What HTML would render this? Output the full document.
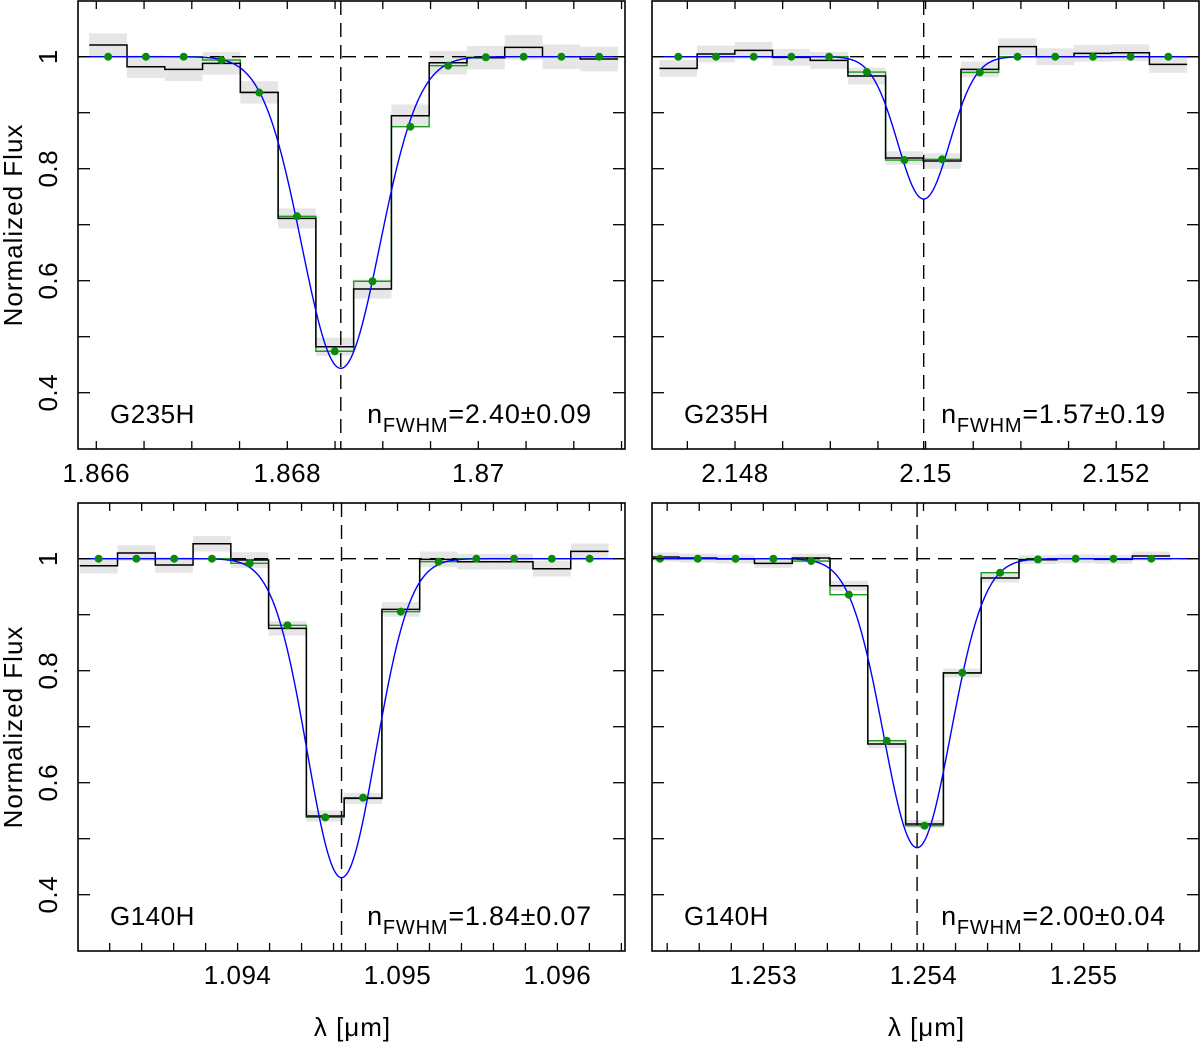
<!DOCTYPE html>
<html><head><meta charset="utf-8"><style>
html,body{margin:0;padding:0;background:#fff}
svg{display:block}
text{font-family:"Liberation Sans",sans-serif;fill:#000}
</style></head><body>
<svg id="chart" width="1200" height="1043" viewBox="0 0 1200 1043" xmlns="http://www.w3.org/2000/svg"></svg>
<script>
// ---- Panel A (top-left) G235H ----
const lamA0 = 1.866124, dlamA = 0.0003955;
const obsA = [1.0208,0.9821,0.9774,0.9881,0.9363,0.7113,0.4821,0.5851,0.8946,0.9893,0.9982,1.0167,1.0,0.9958];
const errA = [0.021,0.020,0.021,0.020,0.020,0.018,0.016,0.017,0.020,0.021,0.021,0.022,0.022,0.022];
const modA = [1,1,1,0.994,0.936,0.715,0.474,0.599,0.875,0.984,0.999,1,1,1];
const fitA = {center:1.86856, depth:0.5565, sigma:0.000408};
const ticksA = ["1.866","1.868","1.87"];
// ---- Panel B (top-right) G235H ----
const lamB0 = 2.147405, dlamB = 0.0003955;
const obsB = [0.9792,1.0048,1.0113,0.9988,0.9935,0.9655,0.819,0.8137,0.9774,1.0179,1.0,1.006,1.0071,0.9863];
const errB = [0.015,0.015,0.015,0.015,0.015,0.015,0.012,0.014,0.014,0.015,0.015,0.015,0.015,0.015];
const modB = [1,1,1,1,1,0.9726,0.8155,0.8167,0.972,1,1,1,1,1];
const fitB = {center:2.14998, depth:0.2542, sigma:0.000272};
const ticksB = ["2.148","2.15","2.152"];
// ---- Panel C (bottom-left) G140H ----
const lamC0 = 1.093131, dlamC = 0.0002362;
const obsC = [0.9875,1.0101,0.9887,1.0268,0.9976,0.8756,0.5405,0.572,0.9095,0.9988,0.9946,0.9946,0.9821,1.0131];
const errC = [0.014,0.014,0.014,0.014,0.014,0.013,0.010,0.010,0.013,0.014,0.014,0.014,0.014,0.014];
const modC = [1,1,1,1,0.9917,0.881,0.5381,0.5732,0.9054,0.9946,1,1,1,1];
const fitC = {center:1.09465, depth:0.5696, sigma:0.000214};
const ticksC = ["1.094","1.095","1.096"];
// ---- Panel D (bottom-right) G140H ----
const lamD0 = 1.252355, dlamD = 0.0002359;
const obsD = [1.003,1.0012,0.9994,0.9917,1.0012,0.9518,0.669,0.5262,0.7958,0.9655,0.9982,1.0,0.9988,1.0048];
const errD = [0.008,0.008,0.008,0.008,0.008,0.009,0.007,0.007,0.008,0.008,0.008,0.008,0.008,0.008];
const modD = [1,1,1,1,0.9958,0.9357,0.675,0.5232,0.7964,0.975,0.9988,1,1,1];
const fitD = {center:1.25396, depth:0.5161, sigma:0.00021};
const ticksD = ["1.253","1.254","1.255"];

const NS = "http://www.w3.org/2000/svg";
const svg = document.getElementById('chart');
function mk(tag, attrs, parent){const e=document.createElementNS(NS,tag);for(const k in attrs)e.setAttribute(k,attrs[k]);(parent||svg).appendChild(e);return e;}

const panels = [
 {id:'top-left', x0:78, x1:625, y0:1, y1:449, lamRef:1.866, pxRef:96.3, pxPer:95500, major:0.002, minor:0.0005, tickVals:[1.866,1.868,1.870], ticks:ticksA, yOne:56.7,
  lam0:lamA0, dlam:dlamA, obs:obsA, err:errA, mod:modA, fit:fitA, grating:'G235H', nf:'=2.40±0.09', ylabel:true, xlabel:false},
 {id:'top-right', x0:652, x1:1199, y0:1, y1:449, lamRef:2.148, pxRef:735, pxPer:95300, major:0.002, minor:0.0005, tickVals:[2.148,2.150,2.152], ticks:ticksB, yOne:56.7,
  lam0:lamB0, dlam:dlamB, obs:obsB, err:errB, mod:modB, fit:fitB, grating:'G235H', nf:'=1.57±0.19', ylabel:false, xlabel:false},
 {id:'bottom-left', x0:78, x1:625, y0:503, y1:951, lamRef:1.094, pxRef:237.6, pxPer:159900, major:0.001, minor:0.0002, tickVals:[1.094,1.095,1.096], ticks:ticksC, yOne:558.7,
  lam0:lamC0, dlam:dlamC, obs:obsC, err:errC, mod:modC, fit:fitC, grating:'G140H', nf:'=1.84±0.07', ylabel:true, xlabel:true},
 {id:'bottom-right', x0:652, x1:1199, y0:503, y1:951, lamRef:1.253, pxRef:763.3, pxPer:160200, major:0.001, minor:0.0002, tickVals:[1.253,1.254,1.255], ticks:ticksD, yOne:558.7,
  lam0:lamD0, dlam:dlamD, obs:obsD, err:errD, mod:modD, fit:fitD, grating:'G140H', nf:'=2.00±0.04', ylabel:false, xlabel:true}
];

panels.forEach(p=>{
  const X = l => p.pxRef + (l - p.lamRef)*p.pxPer;
  const Y = v => p.yOne + (1 - v)*560;
  const g = mk('g',{});
  
  
  const clipId = 'clip-'+p.id;
  const cp = mk('clipPath',{id:clipId}, g);
  mk('rect',{x:p.x0,y:p.y0,width:p.x1-p.x0,height:p.y1-p.y0},cp);
  const plot = mk('g',{'clip-path':'url(#'+clipId+')'}, g);
  
  
  const n = p.obs.length;
  for(let i=0;i<n;i++){
    const c = p.lam0 + i*p.dlam, a = X(c - p.dlam/2), b = X(c + p.dlam/2);
    const r = mk('rect',{x:a,y:Y(p.obs[i]+p.err[i]),width:b-a,height:Y(p.obs[i]-p.err[i])-Y(p.obs[i]+p.err[i]),fill:'#e6e6e6'},plot);
    
    
  }
  const hl = mk('line',{x1:p.x0,x2:p.x1,y1:Y(1),y2:Y(1),stroke:'#000','stroke-width':1.4,'stroke-dasharray':'14,8'},plot);
  
  
  const vl = mk('line',{x1:X(p.fit.center),x2:X(p.fit.center),y1:p.y0,y2:p.y1,stroke:'#000','stroke-width':1.4,'stroke-dasharray':'14,8'},plot);
  
  
  function steps(arr){
    let d='';
    for(let i=0;i<n;i++){
      const c=p.lam0+i*p.dlam, a=X(c-p.dlam/2), b=X(c+p.dlam/2), y=Y(arr[i]);
      d += (i===0?'M':'L')+a.toFixed(2)+','+y.toFixed(2)+'L'+b.toFixed(2)+','+y.toFixed(2);
    }
    return d;
  }
  const gm = mk('path',{d:steps(p.mod),fill:'none',stroke:'#1a9a1a','stroke-width':1.4},plot);
  
  
  const ob = mk('path',{d:steps(p.obs),fill:'none',stroke:'#000','stroke-width':1.5},plot);
  
  
  let d='';
  for(let px=p.x0; px<=p.x1; px+=1){
    const l = p.lamRef + (px - p.pxRef)/p.pxPer;
    const v = 1 - p.fit.depth*Math.exp(-0.5*Math.pow((l-p.fit.center)/p.fit.sigma,2));
    d += (px===p.x0?'M':'L')+px+','+Y(v).toFixed(2);
  }
  const bl = mk('path',{d:d,fill:'none',stroke:'#0000ff','stroke-width':1.4},plot);
  
  
  for(let i=0;i<n;i++){
    const c=p.lam0+i*p.dlam;
    const dot = mk('circle',{cx:X(c),cy:Y(p.mod[i]),r:4,fill:'#0a8a0a'},plot);
    
    
  }
  const fr = mk('rect',{x:p.x0,y:p.y0,width:p.x1-p.x0,height:p.y1-p.y0,fill:'none',stroke:'#000','stroke-width':1.6},g);
  
  
  const lStart = Math.ceil((p.lamRef + (p.x0-p.pxRef)/p.pxPer)/p.minor - 1e-6);
  const lEnd = Math.floor((p.lamRef + (p.x1-p.pxRef)/p.pxPer)/p.minor + 1e-6);
  for(let k=lStart;k<=lEnd;k++){
    const x = X(k*p.minor);
    if(x<=p.x0+1||x>=p.x1-1) continue;
    mk('line',{x1:x,x2:x,y1:p.y1,y2:p.y1-8,stroke:'#000','stroke-width':1.3},g);
    mk('line',{x1:x,x2:x,y1:p.y0,y2:p.y0+8,stroke:'#000','stroke-width':1.3},g);
  }
  p.tickVals.forEach((tv,i)=>{
    const t = mk('text',{x:X(tv),y:p.y1+33,'text-anchor':'middle','font-size':26,'letter-spacing':'0.5'},g);
    t.textContent = p.ticks[i];
    
    
  });
  for(let v=0.3; v<=1.1; v+=0.1){
    const y = Y(v);
    if(y<=p.y0+1||y>=p.y1-1) continue;
    mk('line',{x1:p.x0,x2:p.x0+12,y1:y,y2:y,stroke:'#000','stroke-width':1.3},g);
    mk('line',{x1:p.x1,x2:p.x1-12,y1:y,y2:y,stroke:'#000','stroke-width':1.3},g);
  }
  if(p.ylabel){
    [['1',1],['0.8',0.8],['0.6',0.6],['0.4',0.4]].forEach(([s,v])=>{
      const t = mk('text',{x:0,y:0,'text-anchor':'middle','font-size':26,'letter-spacing':'0.5',transform:'translate(57,'+Y(v)+') rotate(-90)'},g);
      t.textContent = s;
      
      
    });
    const yl = mk('text',{x:0,y:0,'text-anchor':'middle','font-size':26,'letter-spacing':'1',transform:'translate(22,'+((p.y0+p.y1)/2)+') rotate(-90)'},g);
    yl.textContent = 'Normalized Flux';
    
    
  }
  if(p.xlabel){
    const xl = mk('text',{x:(p.x0+p.x1)/2+1,y:1036,'text-anchor':'middle','font-size':26,'letter-spacing':'1'},g);
    xl.textContent = 'λ [μm]';
    
    
  }
  const gr = mk('text',{x:p.x0+32,y:p.y1-26,'font-size':26,'letter-spacing':'0.5'},g);
  gr.textContent = p.grating;
  
  
  const nt = mk('text',{x:p.x1-33,y:p.y1-26,'text-anchor':'end','font-size':27,'letter-spacing':'0.8'},g);
  
  
  const t1 = mk('tspan',{},nt); t1.textContent='n';
  const t2 = mk('tspan',{dy:9,'font-size':20},nt); t2.textContent='FWHM';
  const t3 = mk('tspan',{dy:-9},nt); t3.textContent=p.nf;
});
</script>
</body></html>
